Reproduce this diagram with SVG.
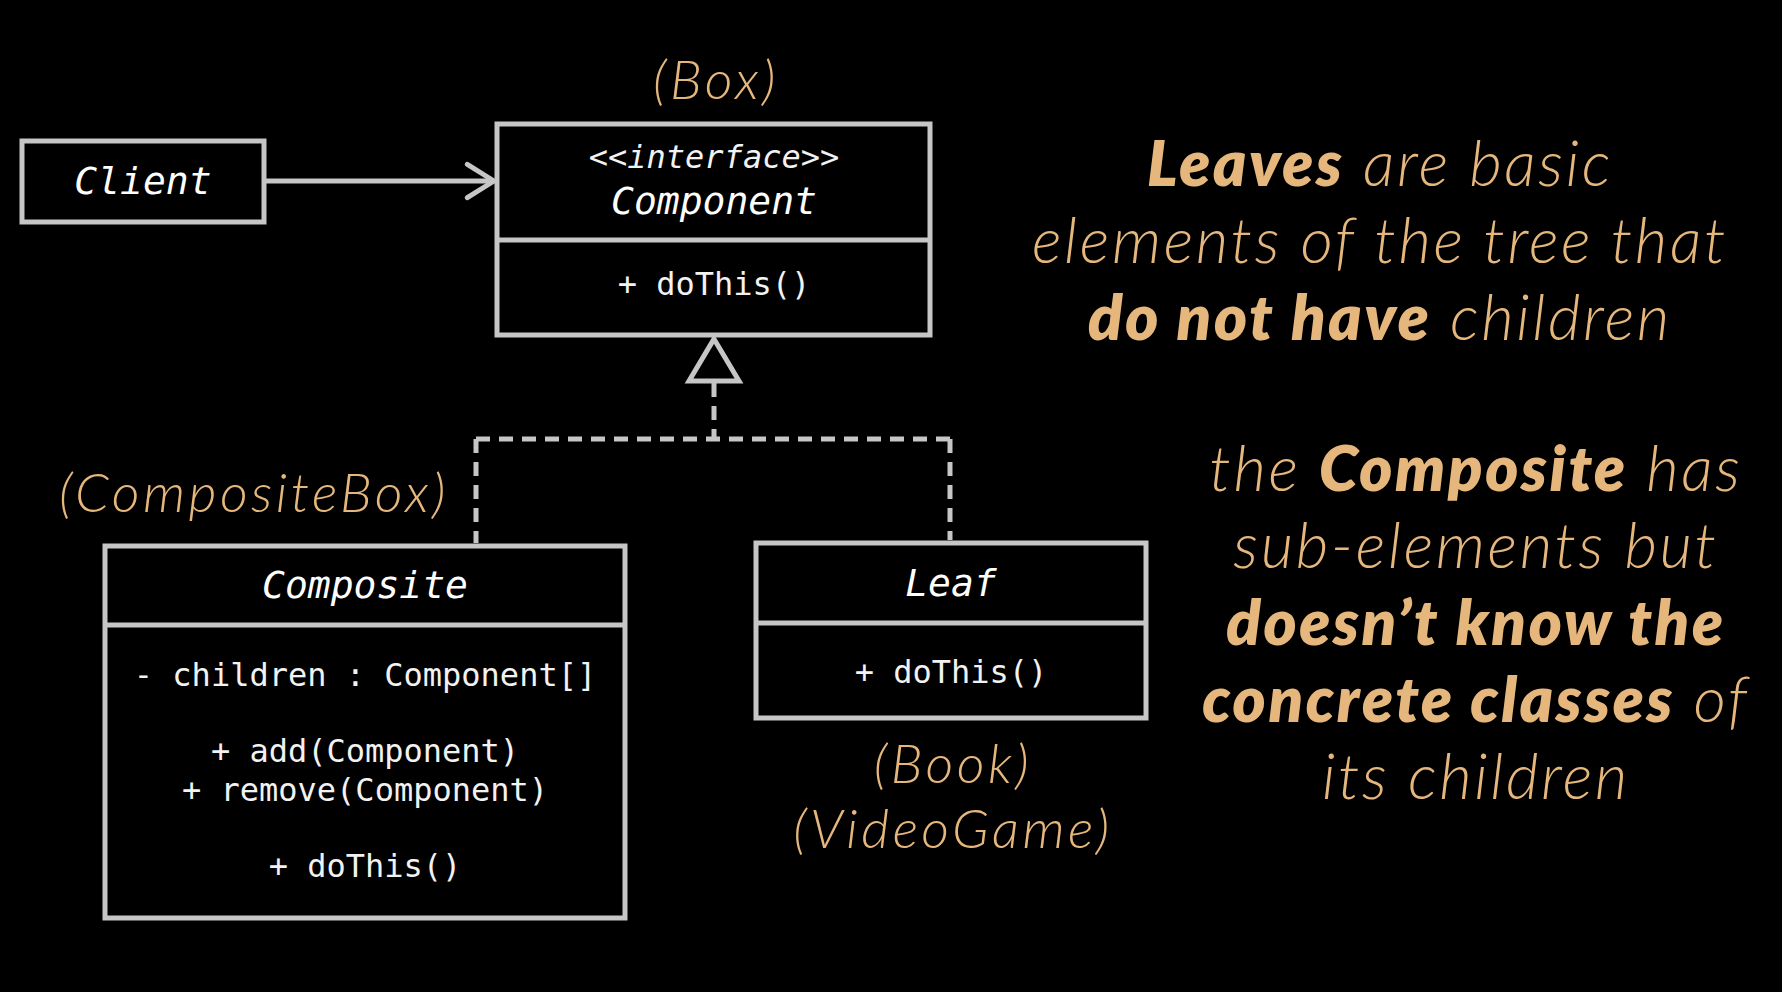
<svg xmlns="http://www.w3.org/2000/svg" width="1782" height="992" viewBox="0 0 1782 992">
  <defs>
    <style>
      .box { fill: #000; stroke: #c6c6c6; stroke-width: 5; }
      .div { stroke: #c6c6c6; stroke-width: 5; }
      .head { font-family: "DejaVu Sans Mono", "Liberation Mono", monospace; font-style: italic; font-size: 38px; fill: #fff; text-anchor: middle; }
      .body { font-family: "DejaVu Sans Mono", "Liberation Mono", monospace; font-size: 32px; fill: #f2f2f2; text-anchor: middle; }
      .tag { font-family: Lato, "Open Sans", sans-serif; font-style: italic; font-weight: 300; font-size: 54px; letter-spacing: 3.5px; fill: #e6b77c; text-anchor: middle; }
      .note { font-family: Lato, "Open Sans", sans-serif; font-style: italic; font-weight: 300; font-size: 63px; letter-spacing: 2.6px; fill: #e6b77c; text-anchor: middle; }
      .b { font-weight: 800; }
      .conn { fill: none; stroke: #c6c6c6; stroke-width: 5; }
      .dash { stroke-dasharray: 14 9; }
    </style>
    <marker id="open" viewBox="0 0 20 24" refX="18" refY="12" markerWidth="36" markerHeight="40" markerUnits="userSpaceOnUse" orient="auto">
      <path d="M2,2 L18,12 L2,22" fill="none" stroke="#c6c6c6" stroke-width="3" stroke-linecap="round" stroke-linejoin="round"/>
    </marker>
  </defs>
  <rect width="1782" height="992" fill="#000"/>

  <g id="connectors">
    <path class="conn" d="M264,181 L494,181" marker-end="url(#open)"/>
    <path class="conn dash" d="M714,383 L714,439"/>
    <path class="conn dash" d="M476,439 L950,439"/>
    <path class="conn dash" d="M476,439 L476,543"/>
    <path class="conn dash" d="M950,439 L950,540"/>
    <path class="conn" d="M714,339 L739,381 L689,381 Z" fill="#000" stroke-linejoin="miter"/>
  </g>

  <g id="client">
    <rect class="box" x="22" y="141" width="242" height="81"/>
    <text class="head" x="143" y="194">Client</text>
  </g>

  <g id="component">
    <rect class="box" x="497" y="124" width="433" height="211"/>
    <line class="div" x1="497" y1="240" x2="930" y2="240"/>
    <text class="body" x="714" y="168">&lt;&lt;<tspan font-style="italic">interface</tspan>&gt;&gt;</text>
    <text class="head" x="714" y="214">Component</text>
    <text class="body" x="714" y="295">+ doThis()</text>
  </g>

  <g id="composite">
    <rect class="box" x="105" y="546" width="520" height="372"/>
    <line class="div" x1="105" y1="625" x2="625" y2="625"/>
    <text class="head" x="365" y="598">Composite</text>
    <text class="body" x="365" y="686">- children : Component[]</text>
    <text class="body" x="365" y="762">+ add(Component)</text>
    <text class="body" x="365" y="801">+ remove(Component)</text>
    <text class="body" x="365" y="877">+ doThis()</text>
  </g>

  <g id="leaf">
    <rect class="box" x="756" y="543" width="390" height="175"/>
    <line class="div" x1="756" y1="623" x2="1146" y2="623"/>
    <text class="head" x="951" y="596">Leaf</text>
    <text class="body" x="951" y="683">+ doThis()</text>
  </g>

  <g id="labels">
    <text class="tag" x="716" y="99">(Box)</text>
    <text class="tag" x="254" y="512">(CompositeBox)</text>
    <text class="tag" x="953" y="783">(Book)</text>
    <text class="tag" x="953" y="848">(VideoGame)</text>
  </g>

  <g id="note-leaves">
    <text class="note" x="1380" y="186"><tspan class="b">Leaves</tspan> are basic</text>
    <text class="note" x="1380" y="263">elements of the tree that</text>
    <text class="note" x="1380" y="340"><tspan class="b">do not have</tspan> children</text>
  </g>

  <g id="note-composite">
    <text class="note" x="1476" y="491">the <tspan class="b">Composite</tspan> has</text>
    <text class="note" x="1476" y="568">sub-elements but</text>
    <text class="note" x="1476" y="645"><tspan class="b">doesn’t know the</tspan></text>
    <text class="note" x="1476" y="722"><tspan class="b">concrete classes</tspan> of</text>
    <text class="note" x="1476" y="799">its children</text>
  </g>
</svg>
